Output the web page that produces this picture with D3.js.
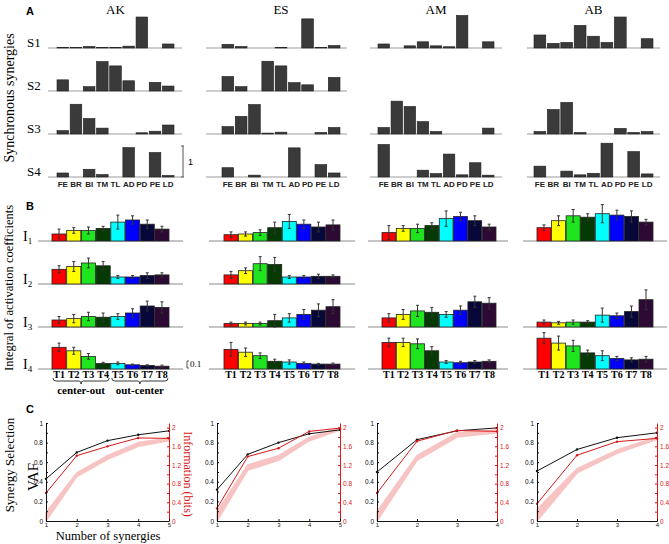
<!DOCTYPE html>
<html>
<head>
<meta charset="utf-8">
<script src="https://cdn.jsdelivr.net/npm/d3@7"></script>
<style>
  body { margin: 0; background: #fff; }
  svg { display: block; }
</style>
</head>
<body>
<div id="chart"></div>
<script>
// ---- data ----
const subjects = ['AK', 'ES', 'AM', 'AB'];
const muscles = ['FE', 'BR', 'BI', 'TM', 'TL', 'AD', 'PD', 'PE', 'LD'];
const synergyLabels = ['S1', 'S2', 'S3', 'S4'];
const targets = ['T1', 'T2', 'T3', 'T4', 'T5', 'T6', 'T7', 'T8'];
const targetColors = ['#ff0000', '#ffff00', '#1fe51f', '#053a05', '#00ffff', '#0000ff', '#07073a', '#2c0a33'];

// A: synchronous synergy weights (null = synergy not present)
const weightsAK = [
  [0.02, 0.01, 0.05, 0.02, 0.02, 0.06, 1.00, 0, 0.13],
  [0.36, 0, 0.14, 0.95, 0.81, 0.33, 0, 0.28, 0.16],
  [0.11, 0.96, 0.50, 0.19, 0, 0, 0.04, 0.09, 0.29],
  [0.13, 0, 0.25, 0.08, 0, 0.95, 0, 0.79, 0.05]
];
const weightsES = [
  [0.12, 0.05, 0, 0, 0.02, 0, 0.94, 0.02, 0.08],
  [0.47, 0.14, 0, 0.96, 0.81, 0.27, 0.20, 0, 0.44],
  [0.24, 0.57, 0.95, 0.03, 0.06, 0, 0, 0.05, 0.21],
  [0.30, 0, 0.06, 0, 0, 0.94, 0, 0.40, 0.13]
];
const weightsAM = [
  [0.13, 0, 0.07, 0.20, 0.07, 0.04, 1.05, 0, 0.20],
  null,
  [0.21, 1.06, 0.89, 0.40, 0.08, 0, 0, 0, 0.19],
  [1.05, 0, 0, 0.22, 0.11, 0.74, 0.07, 0.46, 0.06]
];
const weightsAB = [
  [0.42, 0.15, 0.18, 0.73, 0.38, 0.18, 1.00, 0, 0.30],
  null,
  [0.08, 0.79, 1.02, 0.05, 0, 0, 0.18, 0.05, 0.08],
  [0.35, 0, 0.19, 0.07, 0.12, 1.09, 0, 0.82, 0.10]
];

// B: integral of activation coefficients, mean and error per target
const meanAK = [
  [0.10, 0.15, 0.15, 0.18, 0.27, 0.30, 0.24, 0.17],
  [0.21, 0.25, 0.30, 0.26, 0.10, 0.10, 0.12, 0.13],
  [0.10, 0.12, 0.15, 0.14, 0.15, 0.20, 0.30, 0.28],
  [0.31, 0.26, 0.18, 0.08, 0.08, 0.06, 0.05, 0.04]
];
const errAK = [
  [0.07, 0.04, 0.05, 0.03, 0.10, 0.06, 0.06, 0.04],
  [0.05, 0.07, 0.07, 0.06, 0.02, 0.02, 0.04, 0.03],
  [0.05, 0.06, 0.06, 0.06, 0.04, 0.06, 0.07, 0.08],
  [0.06, 0.05, 0.04, 0.015, 0.02, 0.01, 0.01, 0.015]
];
const meanES = [
  [0.09, 0.10, 0.12, 0.19, 0.28, 0.24, 0.20, 0.23],
  [0.13, 0.19, 0.29, 0.28, 0.10, 0.10, 0.11, 0.11],
  [0.05, 0.05, 0.05, 0.09, 0.13, 0.18, 0.24, 0.29],
  [0.28, 0.24, 0.19, 0.11, 0.10, 0.08, 0.07, 0.07]
];
const errES = [
  [0.04, 0.03, 0.04, 0.08, 0.10, 0.06, 0.07, 0.07],
  [0.05, 0.04, 0.10, 0.10, 0.02, 0.02, 0.03, 0.02],
  [0.02, 0.02, 0.02, 0.09, 0.06, 0.07, 0.09, 0.10],
  [0.10, 0.06, 0.04, 0.03, 0.03, 0.02, 0.01, 0.015]
];
const meanAM = [
  [0.12, 0.18, 0.18, 0.22, 0.32, 0.35, 0.29, 0.20],
  null,
  [0.13, 0.18, 0.23, 0.21, 0.18, 0.24, 0.36, 0.34],
  [0.38, 0.38, 0.36, 0.26, 0.10, 0.09, 0.10, 0.11]
];
const errAM = [
  [0.10, 0.04, 0.06, 0.04, 0.11, 0.06, 0.07, 0.04],
  null,
  [0.06, 0.07, 0.08, 0.07, 0.04, 0.06, 0.08, 0.08],
  [0.06, 0.06, 0.07, 0.06, 0.02, 0.02, 0.02, 0.02]
];
const meanAB = [
  [0.19, 0.29, 0.36, 0.34, 0.39, 0.37, 0.35, 0.27],
  null,
  [0.07, 0.06, 0.07, 0.07, 0.17, 0.16, 0.22, 0.39],
  [0.44, 0.37, 0.33, 0.23, 0.19, 0.15, 0.13, 0.14]
];
const errAB = [
  [0.04, 0.07, 0.09, 0.05, 0.13, 0.07, 0.08, 0.04],
  null,
  [0.03, 0.02, 0.03, 0.02, 0.10, 0.04, 0.08, 0.14],
  [0.08, 0.10, 0.08, 0.04, 0.07, 0.03, 0.03, 0.04]
];

// C: synergy selection (VAF, information, chance band)
const nSynergies = [5, 5, 4, 4];
const vafAK = [0.43, 0.70, 0.82, 0.88, 0.92];
const infoAK = [0.60, 1.40, 1.60, 1.78, 1.77];
const bandLoAK = [0, 0.95, 1.32, 1.60, 1.72];
const bandHiAK = [0.18, 1.03, 1.40, 1.68, 1.78];
const vafES = [0.32, 0.68, 0.80, 0.89, 0.93];
const infoES = [0.27, 1.38, 1.56, 1.92, 1.99];
const bandLoES = [0, 1.09, 1.30, 1.72, 1.95];
const bandHiES = [0.20, 1.20, 1.40, 1.79, 2.00];
const vafAM = [0.50, 0.83, 0.92, 0.95];
const infoAM = [0.60, 1.71, 1.94, 1.92];
const bandLoAM = [0, 1.30, 1.80, 1.89];
const bandHiAM = [0.20, 1.40, 1.89, 1.95];
const vafAB = [0.51, 0.73, 0.85, 0.90];
const infoAB = [0.37, 1.41, 1.70, 1.77];
const bandLoAB = [0, 1.03, 1.45, 1.75];
const bandHiAB = [0.25, 1.12, 1.52, 1.80];

const weights = [weightsAK, weightsES, weightsAM, weightsAB];
const means = [meanAK, meanES, meanAM, meanAB];
const errs = [errAK, errES, errAM, errAB];
const vafs = [vafAK, vafES, vafAM, vafAB];
const infos = [infoAK, infoES, infoAM, infoAB];
const bandLo = [bandLoAK, bandLoES, bandLoAM, bandLoAB];
const bandHi = [bandHiAK, bandHiES, bandHiAM, bandHiAB];

// ---- layout ----
const width = 669;
const height = 544;
const serif = '"Liberation Serif","Times New Roman",serif';
const sans = '"Liberation Sans",Arial,sans-serif';
const red = '#d81818';

const svg = d3.select('#chart')
              .append('svg')
              .attr('width', width)
              .attr('height', height);

// panel letters
svg.selectAll('text.letter')
   .data([['A', 15], ['B', 210], ['C', 413]])
   .enter()
   .append('text')
   .attr('x', 26)
   .attr('y', d => d[1])
   .text(d => d[0])
   .style('font-family', sans)
   .style('font-weight', 'bold')
   .style('font-size', '11px');

// ===== A: synchronous synergies =====
const colA = [
  {axis: [48, 182], bars: [57, 174]},
  {axis: [206, 347], bars: [222, 340]},
  {axis: [370, 502], bars: [378, 494]},
  {axis: [527, 660], bars: [534, 653]}
];
const rowA = [48, 91, 134, 177];
const yA = d3.scaleLinear().domain([0, 1]).range([0, 31]);

subjects.forEach((s, i) => {
  svg.append('text')
     .attr('x', (colA[i].bars[0] + colA[i].bars[1]) / 2)
     .attr('y', 14)
     .attr('text-anchor', 'middle')
     .text(s)
     .style('font-family', serif)
     .style('font-size', '13px');

  const x = d3.scaleBand()
              .domain(muscles)
              .range(colA[i].bars)
              .paddingInner(0.12);

  weights[i].forEach((w, j) => {
    if (!w) return;
    const g = svg.append('g').attr('transform', `translate(0,${rowA[j]})`);
    g.append('line')
     .attr('x1', colA[i].axis[0])
     .attr('x2', colA[i].axis[1])
     .attr('stroke', '#9c9c9c')
     .attr('stroke-width', 1.2);
    g.selectAll('rect')
     .data(w.map((v, k) => ({m: muscles[k], v})).filter(d => d.v > 0))
     .enter()
     .append('rect')
     .attr('x', d => x(d.m))
     .attr('y', d => -yA(d.v))
     .attr('width', x.bandwidth())
     .attr('height', d => yA(d.v))
     .attr('fill', '#3a3a3a')
     .attr('stroke', '#1e1e1e')
     .attr('stroke-width', 0.6);
  });

  svg.append('g')
     .selectAll('text')
     .data(muscles)
     .enter()
     .append('text')
     .attr('x', d => x(d) + x.bandwidth() / 2)
     .attr('y', rowA[3] + 9.5)
     .attr('text-anchor', 'middle')
     .text(d => d)
     .style('font-family', sans)
     .style('font-weight', 'bold')
     .style('font-size', '8px')
     .style('fill', '#222');
});

synergyLabels.forEach((l, j) => {
  svg.append('text')
     .attr('x', 27)
     .attr('y', rowA[j] - 1)
     .text(l)
     .style('font-family', serif)
     .style('font-size', '13px');
});

svg.append('text')
   .attr('transform', 'translate(14,98) rotate(-90)')
   .attr('text-anchor', 'middle')
   .text('Synchronous synergies')
   .style('font-family', serif)
   .style('font-size', '14px');

// scale bar (1 unit)
const sbA = svg.append('g').attr('stroke', '#555').attr('stroke-width', 1);
sbA.append('line').attr('x1', 183).attr('x2', 183).attr('y1', rowA[3] - yA(1)).attr('y2', rowA[3]);
sbA.append('line').attr('x1', 181).attr('x2', 184).attr('y1', rowA[3] - yA(1)).attr('y2', rowA[3] - yA(1));
sbA.append('line').attr('x1', 181).attr('x2', 184).attr('y1', rowA[3]).attr('y2', rowA[3]);
svg.append('text')
   .attr('x', 188)
   .attr('y', rowA[3] - yA(0.5) + 3)
   .text('1')
   .style('font-family', sans)
   .style('font-size', '9px');

// ===== B: integral of activation coefficients =====
const colB = [
  {axis: [38, 183], bars: [52, 169]},
  {axis: [209, 355], bars: [224, 340]},
  {axis: [368, 508], bars: [382, 496]},
  {axis: [523, 667], bars: [537, 653]}
];
const rowB = [241, 284, 327, 369];
const yB = d3.scaleLinear().domain([0, 1]).range([0, 70]);

subjects.forEach((s, i) => {
  const x = d3.scaleBand()
              .domain(targets)
              .range(colB[i].bars)
              .paddingInner(0.04);

  means[i].forEach((m, j) => {
    if (!m) return;
    const g = svg.append('g').attr('transform', `translate(0,${rowB[j]})`);
    g.append('line')
     .attr('x1', colB[i].axis[0])
     .attr('x2', colB[i].axis[1])
     .attr('stroke', '#8c8c8c')
     .attr('stroke-width', 1.2);
    const data = m.map((v, k) => ({t: targets[k], v, e: errs[i][j][k], c: targetColors[k]}));
    g.selectAll('rect')
     .data(data)
     .enter()
     .append('rect')
     .attr('x', d => x(d.t))
     .attr('y', d => -yB(d.v))
     .attr('width', x.bandwidth())
     .attr('height', d => yB(d.v))
     .attr('fill', d => d.c)
     .attr('stroke', '#222')
     .attr('stroke-width', 0.8);
    const eb = g.selectAll('g.err')
                .data(data)
                .enter()
                .append('g')
                .attr('stroke', '#333')
                .attr('stroke-width', 1);
    eb.append('line')
      .attr('x1', d => x(d.t) + x.bandwidth() / 2)
      .attr('x2', d => x(d.t) + x.bandwidth() / 2)
      .attr('y1', d => -yB(d.v + d.e))
      .attr('y2', d => -yB(Math.max(d.v - d.e, 0)));
    eb.append('line')
      .attr('x1', d => x(d.t) + x.bandwidth() / 2 - 1.5)
      .attr('x2', d => x(d.t) + x.bandwidth() / 2 + 1.5)
      .attr('y1', d => -yB(d.v + d.e))
      .attr('y2', d => -yB(d.v + d.e));
    eb.append('line')
      .attr('x1', d => x(d.t) + x.bandwidth() / 2 - 1.5)
      .attr('x2', d => x(d.t) + x.bandwidth() / 2 + 1.5)
      .attr('y1', d => -yB(Math.max(d.v - d.e, 0)))
      .attr('y2', d => -yB(Math.max(d.v - d.e, 0)));
  });

  svg.append('g')
     .selectAll('text')
     .data(targets)
     .enter()
     .append('text')
     .attr('x', d => x(d) + x.bandwidth() / 2)
     .attr('y', rowB[3] + 9)
     .attr('text-anchor', 'middle')
     .text(d => d)
     .style('font-family', serif)
     .style('font-weight', 'bold')
     .style('font-size', '10px');

  if (i === 0) {
    // center-out / out-center braces
    const groups = [['T1', 'T4', 'center-out'], ['T5', 'T8', 'out-center']];
    groups.forEach(gp => {
      const x0 = x(gp[0]) + 1;
      const x1 = x(gp[1]) + x.bandwidth() - 1;
      const mid = (x0 + x1) / 2;
      const y0 = rowB[3] + 9;
      svg.append('path')
         .attr('d', `M${x0},${y0} q0,3 3,3 L${mid - 2},${y0 + 3} q2,0 2,3 q0,-3 2,-3 L${x1 - 3},${y0 + 3} q3,0 3,-3`)
         .attr('fill', 'none')
         .attr('stroke', '#222')
         .attr('stroke-width', 0.9);
      svg.append('text')
         .attr('x', mid)
         .attr('y', y0 + 16)
         .attr('text-anchor', 'middle')
         .text(gp[2])
         .style('font-family', serif)
         .style('font-weight', 'bold')
         .style('font-size', '11px');
    });
  }
});

['1', '2', '3', '4'].forEach((n, j) => {
  const t = svg.append('text')
               .attr('x', 23)
               .attr('y', rowB[j])
               .style('font-family', serif)
               .style('font-size', '14px');
  t.append('tspan').text('I');
  t.append('tspan').attr('dy', 3).style('font-size', '9px').text(n);
});

svg.append('text')
   .attr('transform', 'translate(13,288) rotate(-90)')
   .attr('text-anchor', 'middle')
   .text('Integral of activation coefficients')
   .style('font-family', serif)
   .style('font-size', '12.5px');

// scale bar (0.1)
const sbB = svg.append('g').attr('stroke', '#444').attr('stroke-width', 0.9);
sbB.append('line').attr('x1', 187).attr('x2', 187).attr('y1', rowB[3] - 1 - yB(0.1)).attr('y2', rowB[3] - 1);
sbB.append('line').attr('x1', 187).attr('x2', 189).attr('y1', rowB[3] - 1 - yB(0.1)).attr('y2', rowB[3] - 1 - yB(0.1));
sbB.append('line').attr('x1', 187).attr('x2', 189).attr('y1', rowB[3] - 1).attr('y2', rowB[3] - 1);
svg.append('text')
   .attr('x', 190)
   .attr('y', rowB[3] - 2)
   .text('0.1')
   .style('font-family', serif)
   .style('font-size', '9px');

// ===== C: synergy selection =====
const colC = [[46, 169], [217, 340], [377, 497], [537, 657]];
const yTop = 423;
const yBot = 521;

subjects.forEach((s, i) => {
  const n = nSynergies[i];
  const x = d3.scaleLinear().domain([1, n]).range(colC[i]);
  const yL = d3.scaleLinear().domain([0, 1]).range([yBot, yTop]);
  const yR = d3.scaleLinear().domain([0, 2.1]).range([yBot, yTop]);
  const g = svg.append('g');

  const band = d3.range(n).map(k => ({k: k + 1, lo: bandLo[i][k], hi: bandHi[i][k]}));
  g.append('path')
   .datum(band)
   .attr('d', d3.area().x(d => x(d.k)).y0(d => yR(d.lo)).y1(d => yR(d.hi)))
   .attr('fill', '#f7c3c3')
   .attr('stroke', '#f7c3c3')
   .attr('stroke-width', 1.5)
   .attr('stroke-linejoin', 'round');

  const vafPts = vafs[i].map((v, k) => [x(k + 1), yL(v)]);
  const infoPts = infos[i].map((v, k) => [x(k + 1), yR(v)]);

  g.append('path')
   .attr('d', d3.line()(vafPts))
   .attr('fill', 'none')
   .attr('stroke', '#111')
   .attr('stroke-width', 1);
  g.append('path')
   .attr('d', d3.line()(infoPts))
   .attr('fill', 'none')
   .attr('stroke', red)
   .attr('stroke-width', 1);
  g.selectAll('circle.v')
   .data(vafPts)
   .enter()
   .append('circle')
   .attr('cx', d => d[0])
   .attr('cy', d => d[1])
   .attr('r', 1.2)
   .attr('fill', '#111');
  g.selectAll('circle.r')
   .data(infoPts)
   .enter()
   .append('circle')
   .attr('cx', d => d[0])
   .attr('cy', d => d[1])
   .attr('r', 1.2)
   .attr('fill', red);

  const fmt = d => d3.format('~g')(d);

  // left axis (VAF)
  const left = g.append('g')
                .attr('transform', `translate(${colC[i][0]},0)`)
                .call(d3.axisLeft(yL).tickValues(d3.range(0, 1.01, 0.1)).tickSize(-2).tickSizeOuter(0).tickPadding(3)
                        .tickFormat(d => (Math.round(d * 10) % 2 === 0 ? fmt(+d.toFixed(1)) : '')));
  left.selectAll('text').style('font-family', sans).style('font-size', '6.5px').attr('fill', '#111');
  left.selectAll('line,path').attr('stroke', '#111');

  // right axis (information)
  const right = g.append('g')
                 .attr('transform', `translate(${colC[i][1]},0)`)
                 .call(d3.axisRight(yR).tickValues(d3.range(0, 2.01, 0.2)).tickSize(-2).tickSizeOuter(0).tickPadding(3)
                         .tickFormat(d => (Math.round(d * 10) % 4 === 0 ? fmt(+d.toFixed(1)) : '')));
  right.selectAll('text').style('font-family', sans).style('font-size', '6.5px').attr('fill', red);
  right.selectAll('line,path').attr('stroke', red);

  // bottom axis
  const bottom = g.append('g')
                  .attr('transform', `translate(0,${yBot})`)
                  .call(d3.axisBottom(x).tickValues(d3.range(1, n + 1)).tickSize(-2).tickSizeOuter(0).tickPadding(1.5)
                          .tickFormat(d3.format('d')));
  bottom.selectAll('text').style('font-family', sans).style('font-size', '6px').attr('fill', '#111');
  bottom.selectAll('line,path').attr('stroke', '#111');
});

svg.append('text')
   .attr('transform', 'translate(14,465) rotate(-90)')
   .attr('text-anchor', 'middle')
   .text('Synergy Selection')
   .style('font-family', serif)
   .style('font-size', '13px');

svg.append('text')
   .attr('transform', 'translate(38,477) rotate(-90)')
   .attr('text-anchor', 'middle')
   .text('VAF')
   .style('font-family', serif)
   .style('font-size', '15px');

svg.append('text')
   .attr('transform', 'translate(184,474) rotate(90)')
   .attr('text-anchor', 'middle')
   .text('Information (bits)')
   .style('font-family', serif)
   .style('font-size', '12px')
   .style('fill', red);

svg.append('text')
   .attr('x', 108)
   .attr('y', 540)
   .attr('text-anchor', 'middle')
   .text('Number of synergies')
   .style('font-family', serif)
   .style('font-size', '12.5px');
</script>
</body>
</html>
